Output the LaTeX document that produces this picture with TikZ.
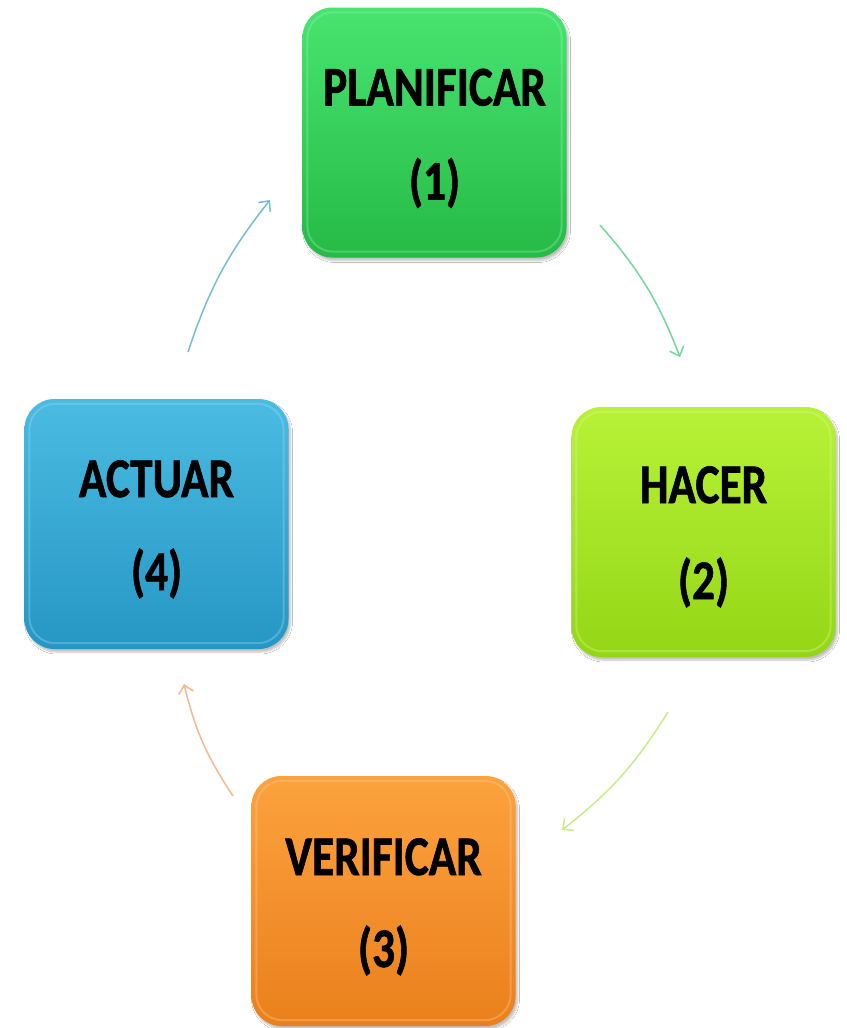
\documentclass[tikz,border=0pt]{standalone}
\usepackage{fontspec}
\setmainfont{Carlito}[BoldFeatures={FakeBold=1.2}]
\usetikzlibrary{arrows.meta,shadows.blur}
\definecolor{gTop}{RGB}{72,228,112}
\definecolor{gBot}{RGB}{38,186,70}
\definecolor{lTop}{RGB}{184,242,56}
\definecolor{lBot}{RGB}{148,214,22}
\definecolor{bTop}{RGB}{74,188,226}
\definecolor{bBot}{RGB}{38,150,196}
\definecolor{oTop}{RGB}{252,162,62}
\definecolor{oBot}{RGB}{234,128,28}
\definecolor{gArr}{RGB}{118,214,160}
\definecolor{lArr}{RGB}{200,236,140}
\definecolor{oArr}{RGB}{246,184,140}
\definecolor{bArr}{RGB}{118,188,214}
\tikzset{
  stagebox/.style={rounded corners=30pt, minimum width=264pt, minimum height=250pt,
    inner sep=0pt, blur shadow={shadow xshift=2pt, shadow yshift=-3pt, shadow opacity=25, shadow blur steps=6}},
  lbl/.style={font=\fontsize{56}{60}\selectfont\bfseries, anchor=base, inner sep=0pt, text=black},
  cyc/.style={line width=1.5pt, -{Straight Barb[length=8pt,width=15pt,line width=1.5pt]}, bend left=10}
}
\newcommand{\squeeze}[1]{\scalebox{0.81}[1]{#1}}
\begin{document}
\begin{tikzpicture}[x=1pt,y=1pt]
\useasboundingbox (0,0) rectangle (846,-1028);
\fill[white] (0,0) rectangle (846,-1028);
% boxes
\node[stagebox, top color=gTop, bottom color=gBot] (plan) at (434.5,-132.5) {};
\node[stagebox, top color=lTop, bottom color=lBot] (hacer) at (703.5,-532) {};
\node[stagebox, top color=oTop, bottom color=oBot] (verif) at (383.5,-901) {};
\node[stagebox, top color=bTop, bottom color=bBot] (actuar) at (156.5,-524) {};
% inner rims
\foreach \n/\c in {plan/gTop, hacer/lTop, verif/oTop, actuar/bTop}{
  \draw[\c!55!white, line width=2pt, opacity=0.35, rounded corners=26pt]
    ([shift={(5pt,-5pt)}]\n.north west) rectangle ([shift={(-5pt,6pt)}]\n.south east);
}
% labels
\node[lbl] (planA) at ([yshift=27pt]plan.center) {\squeeze{PLANIFICAR}};
\node[lbl] (planB) at ([yshift=-67pt]plan.center) {\squeeze{(1)}};
\node[lbl] (hacerA) at ([yshift=29pt]hacer.center) {\squeeze{HACER}};
\node[lbl] (hacerB) at ([yshift=-67pt]hacer.center) {\squeeze{(2)}};
\node[lbl] (verifA) at ([yshift=26pt]verif.center) {\squeeze{VERIFICAR}};
\node[lbl] (verifB) at ([yshift=-66pt]verif.center) {\squeeze{(3)}};
\node[lbl] (actuarA) at ([yshift=27pt]actuar.center) {\squeeze{ACTUAR}};
\node[lbl] (actuarB) at ([yshift=-66pt]actuar.center) {\squeeze{(4)}};
% arrow ends
\coordinate (a1s) at (600,-225);
\coordinate (a1e) at (680,-357);
\coordinate (a2s) at (668,-712);
\coordinate (a2e) at (562,-830);
\coordinate (a3s) at (233,-796);
\coordinate (a3e) at (184,-684);
\coordinate (a4s) at (188,-352);
\coordinate (a4e) at (270,-200);
\draw[cyc, gArr] (a1s) to (a1e);
\draw[cyc, lArr] (a2s) to (a2e);
\draw[cyc, oArr] (a3s) to (a3e);
\draw[cyc, bArr] (a4s) to (a4e);
\end{tikzpicture}
\end{document}
